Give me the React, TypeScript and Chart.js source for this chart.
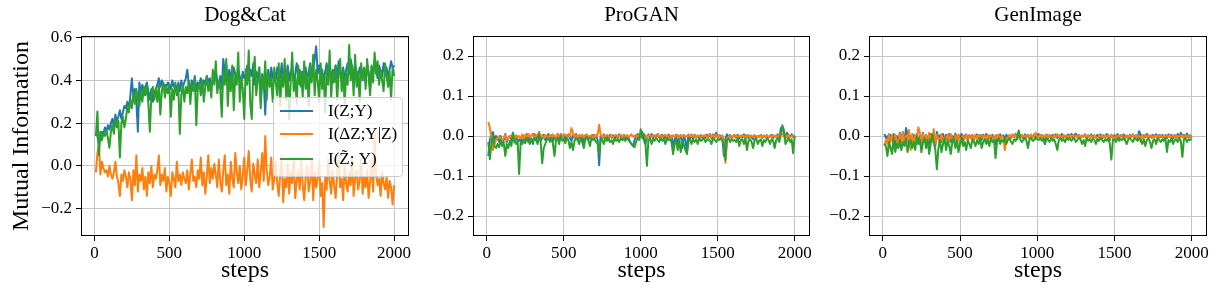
import { useEffect, useRef } from "react";
import { Chart, registerables } from "chart.js";

Chart.register(...registerables);

// ---------------- data ----------------
const FIRST_STEP = 10;
const STEP_INTERVAL = 10;
const X_TICKS = [0, 500, 1000, 1500, 2000];
const Y_TICKS_DOGCAT = [-0.2, 0.0, 0.2, 0.4, 0.6];
const Y_TICKS_SMALL = [-0.2, -0.1, 0.0, 0.1, 0.2];
const TITLES = ["Dog&Cat", "ProGAN", "GenImage"];
const SERIES_NAMES = ["I(Z;Y)", "I(\u0394Z;Y|Z)", "I(Z\u0303; Y)"];

// Dog&Cat
const DC_IZY = [
  0.15, 0.14, 0.10, 0.13, 0.16, 0.15, 0.18, 0.16, 0.19, 0.17, 0.20, 0.22, 0.19, 0.24, 0.21, 0.23, 0.26, 0.22, 0.25, 0.28,
  0.27, 0.30, 0.26, 0.33, 0.41, 0.32, 0.36, 0.30, 0.16, 0.39, 0.34, 0.38, 0.33, 0.37, 0.39, 0.35, 0.31, 0.36, 0.30, 0.33,
  0.36, 0.38, 0.41, 0.37, 0.40, 0.36, 0.38, 0.37, 0.39, 0.38, 0.36, 0.40, 0.37, 0.38, 0.33, 0.39, 0.35, 0.40, 0.37, 0.39,
  0.41, 0.45, 0.38, 0.36, 0.40, 0.37, 0.42, 0.35, 0.39, 0.38, 0.41, 0.36, 0.40, 0.38, 0.42, 0.39, 0.41, 0.37, 0.40, 0.42,
  0.44, 0.40, 0.38, 0.42, 0.36, 0.50, 0.44, 0.47, 0.39, 0.45, 0.42, 0.40, 0.46, 0.43, 0.41, 0.45, 0.42, 0.39, 0.44, 0.41,
  0.43, 0.47, 0.40, 0.45, 0.42, 0.48, 0.38, 0.44, 0.41, 0.46, 0.30, 0.43, 0.40, 0.24, 0.42, 0.45, 0.38, 0.46, 0.41, 0.44,
  0.40, 0.46, 0.43, 0.41, 0.48, 0.38, 0.45, 0.42, 0.47, 0.40, 0.44, 0.46, 0.39, 0.43, 0.48, 0.41, 0.45, 0.37, 0.44, 0.42,
  0.46, 0.40, 0.44, 0.48, 0.42, 0.45, 0.50, 0.56, 0.43, 0.47, 0.41, 0.45, 0.39, 0.44, 0.48, 0.42, 0.46, 0.40, 0.45, 0.43,
  0.47, 0.41, 0.49, 0.44, 0.42, 0.46, 0.40, 0.45, 0.48, 0.43, 0.50, 0.46, 0.42, 0.47, 0.44, 0.41, 0.46, 0.43, 0.40, 0.45,
  0.42, 0.47, 0.44, 0.36, 0.46, 0.43, 0.49, 0.45, 0.41, 0.47, 0.44, 0.42, 0.48, 0.43, 0.46, 0.41, 0.45, 0.49, 0.46, 0.47,
];
const DC_IDZ = [
  -0.03, 0.06, 0.10, -0.04, 0.02, -0.01, -0.03, -0.02, -0.05, 0.00, -0.04, -0.06, -0.03, 0.02, -0.05, -0.08, -0.14, -0.04, -0.07, -0.02,
  -0.05, -0.10, -0.03, -0.06, -0.16, -0.02, -0.09, 0.05, -0.12, -0.04, -0.07, -0.01, -0.11, -0.05, -0.14, -0.03, -0.08, 0.00, -0.10, -0.04,
  -0.06, -0.02, 0.05, -0.09, -0.04, -0.07, -0.01, -0.12, -0.05, -0.08, -0.14, -0.03, -0.06, -0.10, 0.02, -0.07, -0.04, -0.09, -0.03, -0.06,
  -0.08, -0.02, -0.11, -0.04, 0.03, -0.07, -0.05, -0.10, -0.02, -0.06, 0.04, -0.09, -0.03, -0.13, -0.05, 0.05, -0.08, -0.01, -0.06, 0.01,
  -0.04, -0.10, 0.03, -0.07, -0.12, -0.02, 0.05, -0.09, -0.04, -0.13, 0.02, -0.06, -0.10, 0.06, -0.03, -0.08, 0.00, -0.11, -0.05, 0.04,
  -0.09, -0.02, 0.07, -0.06, -0.12, 0.01, -0.04, -0.08, 0.03, -0.10, -0.03, 0.06, -0.07, 0.14, -0.02, -0.09, -0.05, 0.04, -0.11, -0.06,
  0.02, -0.08, -0.14, -0.04, 0.05, -0.17, -0.06, -0.10, 0.01, -0.13, -0.03, -0.08, 0.04, -0.15, -0.07, -0.02, -0.11, 0.03, -0.09, -0.16,
  -0.05, 0.00, -0.12, -0.07, 0.04, -0.16, -0.03, -0.10, -0.06, 0.02, -0.14, -0.08, -0.285, -0.05, -0.11, 0.03, -0.07, -0.13, -0.02, -0.09,
  -0.15, -0.04, 0.05, -0.10, -0.06, -0.16, 0.01, -0.08, -0.12, -0.03, -0.09, 0.04, -0.14, -0.06, -0.02, -0.11, -0.07, 0.03, -0.13, -0.05,
  -0.10, -0.02, -0.15, -0.07, 0.02, -0.12, 0.15, -0.04, -0.09, -0.06, -0.14, -0.03, -0.08, -0.11, -0.05, -0.15, -0.07, -0.10, -0.18, -0.09,
];
const DC_IZTY = [
  0.14, 0.255, 0.05, 0.16, 0.12, 0.15, 0.14, 0.17, 0.13, 0.085, 0.16, 0.19, 0.15, 0.22, 0.18, 0.21, 0.04, 0.20, 0.23, 0.18,
  0.22, 0.28, 0.25, 0.31, 0.27, 0.34, 0.29, 0.36, 0.31, 0.28, 0.35, 0.30, 0.37, 0.33, 0.38, 0.29, 0.16, 0.33, 0.37, 0.31,
  0.36, 0.30, 0.38, 0.24, 0.35, 0.39, 0.32, 0.37, 0.34, 0.38, 0.23, 0.36, 0.31, 0.39, 0.34, 0.37, 0.15, 0.33, 0.38, 0.30,
  0.37, 0.34, 0.40, 0.29, 0.38, 0.35, 0.41, 0.19, 0.36, 0.39, 0.33, 0.40, 0.30, 0.37, 0.42, 0.35, 0.39, 0.32, 0.45, 0.38,
  0.49, 0.34, 0.40, 0.36, 0.23, 0.44, 0.38, 0.50, 0.28, 0.42, 0.35, 0.47, 0.26, 0.43, 0.38, 0.53, 0.30, 0.41, 0.36, 0.22,
  0.45, 0.38, 0.54, 0.29, 0.22, 0.43, 0.51, 0.33, 0.40, 0.46, 0.27, 0.42, 0.36, 0.49, 0.31, 0.44, 0.37, 0.41, 0.30, 0.46,
  0.39, 0.33, 0.48, 0.28, 0.43, 0.37, 0.50, 0.31, 0.45, 0.22, 0.40, 0.53, 0.35, 0.42, 0.29, 0.47, 0.38, 0.44, 0.32, 0.49,
  0.36, 0.43, 0.28, 0.47, 0.39, 0.52, 0.33, 0.45, 0.40, 0.30, 0.48, 0.36, 0.43, 0.25, 0.46, 0.38, 0.54, 0.32, 0.44, 0.39,
  0.47, 0.31, 0.42, 0.50, 0.35, 0.45, 0.28, 0.43, 0.38, 0.565, 0.40, 0.47, 0.33, 0.52, 0.37, 0.44, 0.30, 0.48, 0.41, 0.46,
  0.36, 0.50, 0.42, 0.33, 0.47, 0.39, 0.53, 0.43, 0.49, 0.38, 0.45, 0.40, 0.35, 0.48, 0.42, 0.37, 0.44, 0.31, 0.46, 0.42,
];

// ProGAN
const PG_IZY = [
  -0.05, -0.01, 0.005, 0.01, -0.01, 0.00, -0.005, -0.015, 0.00, -0.02, -0.01, 0.005, -0.015, -0.005, 0.00, -0.01, 0.008, -0.015, 0.00, -0.01,
  -0.012, -0.005, -0.02, 0.00, -0.01, 0.005, -0.015, 0.00, -0.008, -0.02, 0.005, -0.01, 0.00, 0.01, -0.012, -0.005, 0.003, -0.01, -0.005, 0.005,
  -0.01, 0.002, -0.015, 0.00, -0.006, 0.004, -0.01, 0.005, -0.002, 0.003, -0.008, 0.00, 0.004, -0.005, -0.012, 0.002, -0.004, 0.005, -0.01, 0.00,
  -0.006, 0.003, -0.02, 0.002, -0.005, -0.01, 0.00, -0.004, 0.003, -0.005, 0.002, -0.01, -0.073, 0.00, -0.008, 0.004, -0.006, 0.002, -0.01, 0.003,
  -0.004, 0.002, -0.008, 0.00, -0.005, 0.004, -0.002, -0.01, 0.003, -0.006, 0.001, -0.004, -0.015, -0.02, -0.025, -0.01, 0.00, 0.005, -0.005, 0.002,
  0.01, -0.01, -0.02, -0.005, 0.004, -0.003, 0.005, -0.006, 0.002, -0.002, 0.005, -0.004, 0.00, 0.003, -0.006, 0.002, -0.01, 0.004, -0.003, 0.00,
  -0.03, -0.008, 0.003, -0.025, -0.005, 0.002, -0.03, 0.00, -0.01, -0.04, 0.004, -0.005, 0.002, -0.008, 0.003, -0.003, 0.00, -0.006, 0.002, -0.004,
  0.00, -0.005, 0.003, -0.002, 0.005, -0.006, 0.004, -0.003, 0.008, -0.005, 0.002, 0.00, -0.004, -0.05, -0.006, 0.004, -0.002, 0.003, -0.005, 0.00,
  0.002, -0.004, 0.003, -0.006, 0.00, -0.003, 0.004, -0.002, 0.002, -0.005, 0.001, -0.003, -0.008, 0.002, -0.004, 0.00, -0.002, 0.003, -0.005, 0.001,
  -0.003, 0.002, -0.004, 0.00, 0.003, -0.005, 0.001, -0.002, 0.004, -0.006, 0.02, 0.015, 0.01, -0.005, 0.008, 0.002, -0.003, 0.004, -0.002, 0.002,
];
const PG_IDZ = [
  0.035, 0.02, -0.005, -0.035, -0.02, -0.01, -0.005, 0.00, -0.008, -0.012, -0.005, 0.003, -0.01, -0.006, 0.00, -0.004, 0.005, -0.008, 0.002, -0.003,
  0.00, -0.006, 0.004, -0.01, 0.003, -0.002, 0.005, -0.004, 0.002, 0.006, -0.005, 0.00, 0.004, 0.008, -0.003, 0.002, -0.006, 0.003, 0.00, -0.004,
  0.002, -0.005, 0.004, 0.00, -0.003, 0.006, -0.002, 0.003, -0.004, 0.001, 0.004, -0.002, 0.002, 0.00, 0.02, 0.008, -0.003, 0.002, -0.004, 0.003,
  -0.002, 0.003, -0.004, 0.001, 0.004, -0.003, 0.00, 0.002, -0.005, 0.003, -0.002, 0.004, 0.028, 0.003, -0.004, 0.002, -0.002, 0.003, 0.00, -0.003,
  0.002, -0.004, 0.001, 0.003, -0.002, 0.000, 0.003, -0.003, 0.002, -0.001, 0.002, -0.003, 0.001, 0.004, -0.002, 0.00, 0.003, -0.004, 0.002, -0.001,
  0.003, -0.002, 0.002, -0.004, 0.001, 0.003, -0.002, 0.000, 0.002, -0.003, 0.004, -0.001, 0.002, -0.003, 0.001, 0.003, -0.002, 0.00, 0.002, -0.004,
  0.002, -0.003, 0.001, 0.003, -0.004, 0.002, -0.001, 0.003, -0.002, 0.000, 0.002, -0.003, 0.004, -0.002, 0.001, -0.004, 0.002, 0.000, -0.003, 0.002,
  -0.002, 0.003, -0.004, 0.001, 0.005, -0.003, 0.002, -0.005, 0.003, -0.002, 0.001, -0.003, 0.002, -0.015, -0.067, -0.01, -0.003, 0.002, -0.004, 0.001,
  -0.003, 0.002, -0.004, 0.001, -0.002, 0.003, -0.003, 0.000, -0.004, 0.002, -0.002, 0.001, -0.003, 0.002, -0.005, 0.000, -0.002, 0.003, -0.004, 0.001,
  -0.002, 0.002, -0.004, 0.000, -0.003, 0.002, -0.002, 0.001, -0.004, 0.003, 0.01, 0.005, -0.002, 0.003, -0.004, 0.002, -0.003, 0.000, -0.002, 0.002,
];
const PG_IZTY = [
  -0.015, -0.058, -0.02, 0.002, -0.025, -0.03, -0.02, -0.028, -0.01, -0.025, -0.015, -0.05, -0.02, -0.03, -0.012, -0.025, 0.008, -0.015, -0.02, -0.01,
  -0.095, -0.015, -0.02, -0.01, -0.018, -0.005, -0.012, -0.02, -0.008, -0.015, -0.005, -0.01, -0.02, 0.005, -0.015, -0.068, -0.03, -0.02, -0.01, -0.005,
  -0.015, -0.005, -0.02, -0.05, -0.01, -0.005, -0.02, 0.00, -0.012, -0.008, -0.018, -0.005, -0.01, -0.03, -0.015, -0.035, -0.012, -0.005, -0.01, -0.02,
  -0.005, -0.015, -0.03, -0.008, -0.002, -0.012, -0.025, -0.005, -0.01, -0.008, -0.015, -0.02, -0.045, -0.005, -0.01, -0.02, -0.005, -0.012, -0.008, -0.015,
  -0.01, -0.02, -0.005, -0.012, -0.008, -0.015, -0.005, -0.01, -0.008, -0.012, -0.005, -0.01, -0.015, -0.02, -0.025, -0.028, -0.015, -0.005, -0.01, 0.017,
  -0.005, 0.005, -0.015, -0.075, -0.01, -0.005, -0.02, -0.008, -0.012, -0.005, -0.01, -0.015, -0.005, -0.012, -0.008, -0.02, -0.005, -0.01, -0.008, -0.015,
  -0.045, -0.02, -0.01, -0.035, -0.015, -0.04, -0.01, -0.02, -0.035, -0.045, -0.015, -0.005, -0.02, -0.01, -0.015, -0.008, -0.02, -0.005, -0.012, -0.01,
  -0.005, -0.015, -0.01, -0.008, -0.012, -0.02, -0.005, -0.01, -0.015, -0.008, -0.01, -0.005, -0.012, -0.02, -0.06, -0.01, -0.005, -0.015, -0.008, -0.012,
  -0.01, -0.015, -0.005, -0.025, -0.01, -0.008, -0.02, -0.005, -0.035, -0.012, -0.008, -0.015, -0.03, -0.01, -0.005, -0.02, -0.012, -0.008, -0.025, -0.01,
  -0.015, -0.005, -0.01, -0.02, -0.008, -0.012, -0.03, -0.01, -0.005, -0.015, 0.005, 0.027, 0.015, -0.02, -0.012, -0.005, -0.015, -0.008, -0.043, 0.00,
];

// GenImage
const GI_IZY = [
  0.005, -0.005, 0.00, -0.02, 0.003, -0.01, 0.005, -0.03, 0.00, -0.015, 0.008, -0.01, 0.01, -0.02, 0.02, 0.005, -0.025, 0.00, -0.01, 0.003,
  -0.015, 0.005, -0.02, 0.00, -0.01, 0.008, -0.015, 0.003, -0.005, -0.02, 0.005, -0.01, 0.00, -0.025, 0.01, -0.005, 0.002, -0.015, 0.005, -0.01,
  0.003, -0.008, 0.005, -0.015, 0.00, -0.005, 0.006, -0.01, 0.002, -0.004, 0.005, -0.012, 0.00, 0.004, -0.008, 0.002, -0.005, 0.003, -0.01, 0.00,
  0.004, -0.006, 0.002, -0.01, 0.003, -0.004, 0.005, -0.008, 0.001, -0.005, 0.003, -0.01, -0.02, 0.002, -0.006, 0.004, -0.003, 0.002, -0.008, 0.003,
  -0.004, 0.002, -0.006, 0.003, -0.002, 0.005, -0.008, 0.01, -0.003, 0.002, -0.006, 0.004, -0.002, 0.003, -0.005, 0.001, -0.003, 0.004, -0.006, 0.002,
  0.005, -0.003, 0.002, -0.005, -0.02, 0.004, -0.006, 0.002, -0.004, 0.003, -0.002, 0.004, -0.005, 0.002, -0.003, 0.005, -0.004, 0.001, -0.003, 0.004,
  -0.002, 0.005, -0.004, 0.002, 0.006, -0.003, 0.003, -0.005, 0.001, -0.002, 0.004, -0.006, 0.002, -0.003, 0.004, -0.002, 0.001, -0.004, 0.003, -0.002,
  0.004, -0.005, 0.002, -0.003, 0.005, -0.002, -0.01, 0.003, -0.004, 0.002, -0.003, 0.005, -0.006, 0.002, -0.002, 0.004, -0.003, 0.001, -0.005, 0.003,
  -0.002, 0.004, -0.003, 0.002, -0.005, 0.012, 0.003, -0.004, 0.002, -0.003, 0.005, -0.002, 0.001, -0.004, 0.003, -0.002, 0.004, -0.005, 0.002, -0.003,
  0.003, -0.004, 0.002, -0.005, 0.004, -0.002, 0.003, -0.006, 0.002, -0.003, 0.005, -0.004, 0.008, -0.002, 0.003, -0.005, 0.006, -0.003, 0.002, -0.005,
];
const GI_IDZ = [
  -0.025, -0.01, -0.02, 0.005, -0.015, 0.00, -0.02, 0.004, -0.01, -0.03, 0.005, -0.015, 0.01, -0.02, 0.00, -0.01, 0.015, -0.035, 0.005, -0.02,
  0.00, -0.015, 0.022, 0.008, -0.02, 0.005, -0.01, 0.002, -0.025, 0.008, -0.005, -0.015, 0.017, -0.02, 0.003, -0.008, -0.02, 0.005, -0.012, -0.003,
  -0.008, 0.003, -0.012, 0.005, -0.006, -0.015, 0.002, -0.01, 0.004, -0.025, -0.005, 0.002, -0.008, 0.003, -0.01, 0.00, -0.006, 0.002, -0.012, 0.003,
  -0.005, 0.002, -0.008, 0.003, -0.004, 0.001, -0.01, 0.003, -0.005, 0.002, -0.003, -0.008, 0.002, -0.005, 0.003, -0.012, 0.001, -0.004, -0.035, -0.01,
  -0.003, 0.002, -0.005, 0.004, -0.002, 0.003, -0.006, 0.002, -0.004, 0.003, -0.002, 0.001, -0.005, 0.002, -0.003, 0.004, -0.004, 0.001, 0.008, -0.003,
  -0.002, 0.003, -0.005, 0.002, -0.003, 0.001, -0.004, 0.003, -0.002, -0.006, 0.002, -0.003, 0.004, -0.002, 0.001, -0.005, 0.002, -0.003, 0.001, -0.004,
  0.002, -0.003, 0.004, -0.002, 0.001, -0.004, 0.002, -0.003, 0.001, -0.002, 0.003, -0.004, 0.002, -0.005, 0.001, -0.003, 0.002, -0.002, -0.012, 0.001,
  -0.003, 0.002, -0.004, 0.001, -0.002, 0.003, -0.005, 0.002, -0.003, -0.01, 0.002, -0.004, 0.001, -0.002, 0.003, -0.003, -0.008, 0.002, -0.004, 0.001,
  -0.002, 0.003, -0.004, 0.002, -0.003, 0.001, -0.015, 0.002, -0.004, 0.003, -0.002, 0.001, -0.003, 0.002, -0.005, 0.001, -0.002, 0.003, -0.004, 0.002,
  -0.003, 0.001, -0.004, 0.002, -0.002, 0.003, -0.005, 0.001, -0.003, 0.002, -0.004, 0.001, -0.002, 0.003, -0.006, 0.002, -0.003, 0.001, -0.002, 0.00,
];
const GI_IZTY = [
  -0.02, -0.025, -0.05, -0.015, -0.03, -0.045, -0.005, -0.04, -0.02, -0.03, -0.01, -0.035, -0.015, -0.025, -0.005, -0.04, -0.02, -0.01, -0.03, -0.015,
  -0.035, 0.00, -0.02, -0.01, -0.04, -0.015, -0.005, -0.03, -0.01, -0.045, -0.02, 0.005, -0.015, -0.035, -0.083, -0.03, -0.01, -0.04, -0.02, -0.005,
  -0.035, -0.01, -0.025, -0.045, -0.015, -0.005, -0.03, -0.01, -0.04, -0.02, -0.005, -0.025, -0.015, -0.035, -0.01, -0.02, -0.03, -0.008, -0.015, -0.025,
  -0.01, -0.02, -0.005, -0.03, -0.015, -0.008, -0.02, -0.01, -0.025, -0.005, -0.015, -0.01, -0.055, -0.015, -0.005, -0.02, -0.01, -0.015, -0.005, -0.02,
  -0.01, -0.005, -0.015, -0.02, -0.008, -0.012, -0.005, 0.014, -0.008, -0.015, -0.01, -0.005, -0.012, -0.03, -0.008, -0.005, -0.012, -0.01, -0.004, -0.008,
  -0.01, -0.005, -0.012, -0.008, -0.02, -0.005, -0.01, -0.015, -0.005, -0.012, -0.008, -0.02, -0.035, -0.01, -0.005, -0.012, -0.008, -0.015, -0.005, -0.01,
  -0.005, -0.012, -0.008, -0.005, -0.015, -0.01, -0.005, -0.008, -0.02, -0.01, -0.025, -0.005, -0.012, -0.008, -0.015, -0.005, -0.01, -0.02, -0.008, -0.012,
  -0.005, -0.01, -0.015, -0.008, -0.012, -0.005, -0.02, -0.059, -0.01, -0.008, -0.015, -0.005, -0.012, -0.008, -0.01, -0.005, -0.012, -0.02, -0.008, -0.005,
  -0.01, -0.015, -0.005, -0.008, -0.012, -0.005, -0.01, -0.02, -0.008, -0.025, -0.01, -0.005, -0.015, -0.03, -0.012, -0.008, -0.02, -0.005, -0.01, -0.015,
  -0.008, -0.012, -0.005, -0.04, -0.01, -0.015, -0.005, -0.02, -0.01, -0.008, -0.015, -0.005, -0.012, -0.052, -0.01, -0.005, -0.015, -0.008, -0.01, -0.008,
];

// ---------------- styling / layout ----------------
const COLORS = ["#1f77b4", "#ff7f0e", "#2ca02c"];
const FONT = '"Liberation Serif", "Times New Roman", Times, serif';
const W = 1220;
const H = 294;
const Y_AXIS_W = 50;
const X_AXIS_H = 30;

type Panel = {
  title: string;
  area: { left: number; right: number; top: number; bottom: number };
  yMin: number;
  yMax: number;
  yTicks: number[];
  series: number[][];
  legend: boolean;
  ylabel: boolean;
};

const PANELS: Panel[] = [
  { title: TITLES[0], area: { left: 81, right: 409, top: 36, bottom: 236 }, yMin: -0.3275, yMax: 0.6075, yTicks: Y_TICKS_DOGCAT, series: [DC_IZY, DC_IDZ, DC_IZTY], legend: true, ylabel: true },
  { title: TITLES[1], area: { left: 473, right: 810, top: 36, bottom: 236 }, yMin: -0.25, yMax: 0.25, yTicks: Y_TICKS_SMALL, series: [PG_IZY, PG_IDZ, PG_IZTY], legend: false, ylabel: false },
  { title: TITLES[2], area: { left: 869, right: 1207, top: 36, bottom: 236 }, yMin: -0.25, yMax: 0.25, yTicks: Y_TICKS_SMALL, series: [GI_IZY, GI_IDZ, GI_IZTY], legend: false, ylabel: false },
];

const fmtY = (v: number) => {
  const r = Math.round(v * 10) / 10;
  if (Math.abs(r) < 1e-9) return "0.0";
  return (r < 0 ? "\u2212" : "") + Math.abs(r).toFixed(1);
};

const decorPlugin = {
  id: "decor",
  afterDraw(chart: any, _args: any, opts: any) {
    const { ctx, chartArea: a } = chart;
    ctx.save();
    // frame
    ctx.strokeStyle = "#000";
    ctx.lineWidth = 1;
    const l = Math.round(a.left) + 0.5;
    const t = Math.round(a.top) + 0.5;
    const r = Math.round(a.right) - 0.5;
    const b = Math.round(a.bottom) - 0.5;
    ctx.strokeRect(l, t, r - l, b - t);

    ctx.fillStyle = "#000";
    ctx.textAlign = "center";
    ctx.textBaseline = "middle";
    // title
    ctx.font = `21px ${FONT}`;
    ctx.fillText(opts.title, (a.left + a.right) / 2, 15);
    // x label
    ctx.font = `24px ${FONT}`;
    ctx.fillText("steps", (a.left + a.right) / 2, 271);
    // y label
    if (opts.ylabel) {
      ctx.save();
      ctx.translate(22, (a.top + a.bottom) / 2);
      ctx.rotate(-Math.PI / 2);
      ctx.font = `24px ${FONT}`;
      ctx.fillText("Mutual Information", 0, 0);
      ctx.restore();
    }
    // legend
    if (opts.legend) {
      const bx = a.right - 136;
      const by = a.top + 61;
      const bw = 129;
      const bh = 79;
      ctx.beginPath();
      if (ctx.roundRect) ctx.roundRect(bx + 0.5, by + 0.5, bw, bh, 3);
      else ctx.rect(bx + 0.5, by + 0.5, bw, bh);
      ctx.fillStyle = "rgba(255,255,255,0.8)";
      ctx.fill();
      ctx.strokeStyle = "#cccccc";
      ctx.lineWidth = 1;
      ctx.stroke();
      const rows = [by + 14, by + 37, by + 62];
      ctx.font = `17px ${FONT}`;
      ctx.textAlign = "left";
      ctx.textBaseline = "middle";
      SERIES_NAMES.forEach((name, i) => {
        ctx.beginPath();
        ctx.strokeStyle = COLORS[i];
        ctx.lineWidth = 2;
        ctx.moveTo(bx + 7, rows[i]);
        ctx.lineTo(bx + 40, rows[i]);
        ctx.stroke();
        ctx.fillStyle = "#000";
        ctx.fillText(name, bx + 55, rows[i] + 1);
      });
    }
    ctx.restore();
  },
};

function makeConfig(p: Panel): any {
  const datasets = p.series.map((vals, si) => ({
    label: SERIES_NAMES[si],
    data: vals.map((v, i) => ({ x: FIRST_STEP + i * STEP_INTERVAL, y: v })),
    borderColor: COLORS[si],
    backgroundColor: COLORS[si],
    borderWidth: 2,
    pointRadius: 0,
    tension: 0,
    fill: false,
    borderJoinStyle: "round",
    order: 3 - si,
  }));
  const tickFont = { family: FONT, size: 17 };
  return {
    type: "line",
    data: { datasets },
    plugins: [decorPlugin],
    options: {
      animation: false,
      responsive: false,
      maintainAspectRatio: false,
      devicePixelRatio: 1,
      events: [],
      layout: {
        autoPadding: false,
        padding: {
          left: p.area.left - Y_AXIS_W,
          right: W - p.area.right,
          top: p.area.top,
          bottom: H - p.area.bottom - X_AXIS_H,
        },
      },
      plugins: {
        legend: { display: false },
        title: { display: false },
        tooltip: { enabled: false },
        decor: { title: p.title, legend: p.legend, ylabel: p.ylabel },
      },
      scales: {
        x: {
          type: "linear",
          min: -89.5,
          max: 2099.5,
          afterFit: (s: any) => {
            s.height = X_AXIS_H;
          },
          afterBuildTicks: (s: any) => {
            s.ticks = X_TICKS.map((v) => ({ value: v }));
          },
          ticks: {
            autoSkip: false,
            maxRotation: 0,
            padding: 2,
            color: "#000",
            font: tickFont,
            callback: (v: number) => String(v),
          },
          grid: {
            color: "#c4c4c4",
            lineWidth: 1,
            tickLength: 5,
            tickColor: "#000",
            tickWidth: 1,
          },
          border: { display: false },
        },
        y: {
          type: "linear",
          min: p.yMin,
          max: p.yMax,
          afterFit: (s: any) => {
            s.width = Y_AXIS_W;
          },
          afterBuildTicks: (s: any) => {
            s.ticks = p.yTicks.map((v) => ({ value: v }));
          },
          ticks: {
            autoSkip: false,
            padding: 4,
            color: "#000",
            font: tickFont,
            callback: (v: number) => fmtY(v),
          },
          grid: {
            color: "#c4c4c4",
            lineWidth: 1,
            tickLength: 5,
            tickColor: "#000",
            tickWidth: 1,
          },
          border: { display: false },
        },
      },
    },
  };
}

function PanelCanvas({ panel }: { panel: Panel }) {
  const ref = useRef<HTMLCanvasElement | null>(null);
  useEffect(() => {
    if (!ref.current) return;
    const chart = new Chart(ref.current, makeConfig(panel));
    return () => chart.destroy();
  }, [panel]);
  return (
    <canvas
      ref={ref}
      width={W}
      height={H}
      style={{ position: "absolute", left: 0, top: 0, width: W, height: H }}
    />
  );
}

export default function App() {
  return (
    <div style={{ position: "absolute", left: 0, top: 0, width: W, height: H, background: "#fff", overflow: "hidden" }}>
      {PANELS.map((p) => (
        <PanelCanvas key={p.title} panel={p} />
      ))}
    </div>
  );
}
